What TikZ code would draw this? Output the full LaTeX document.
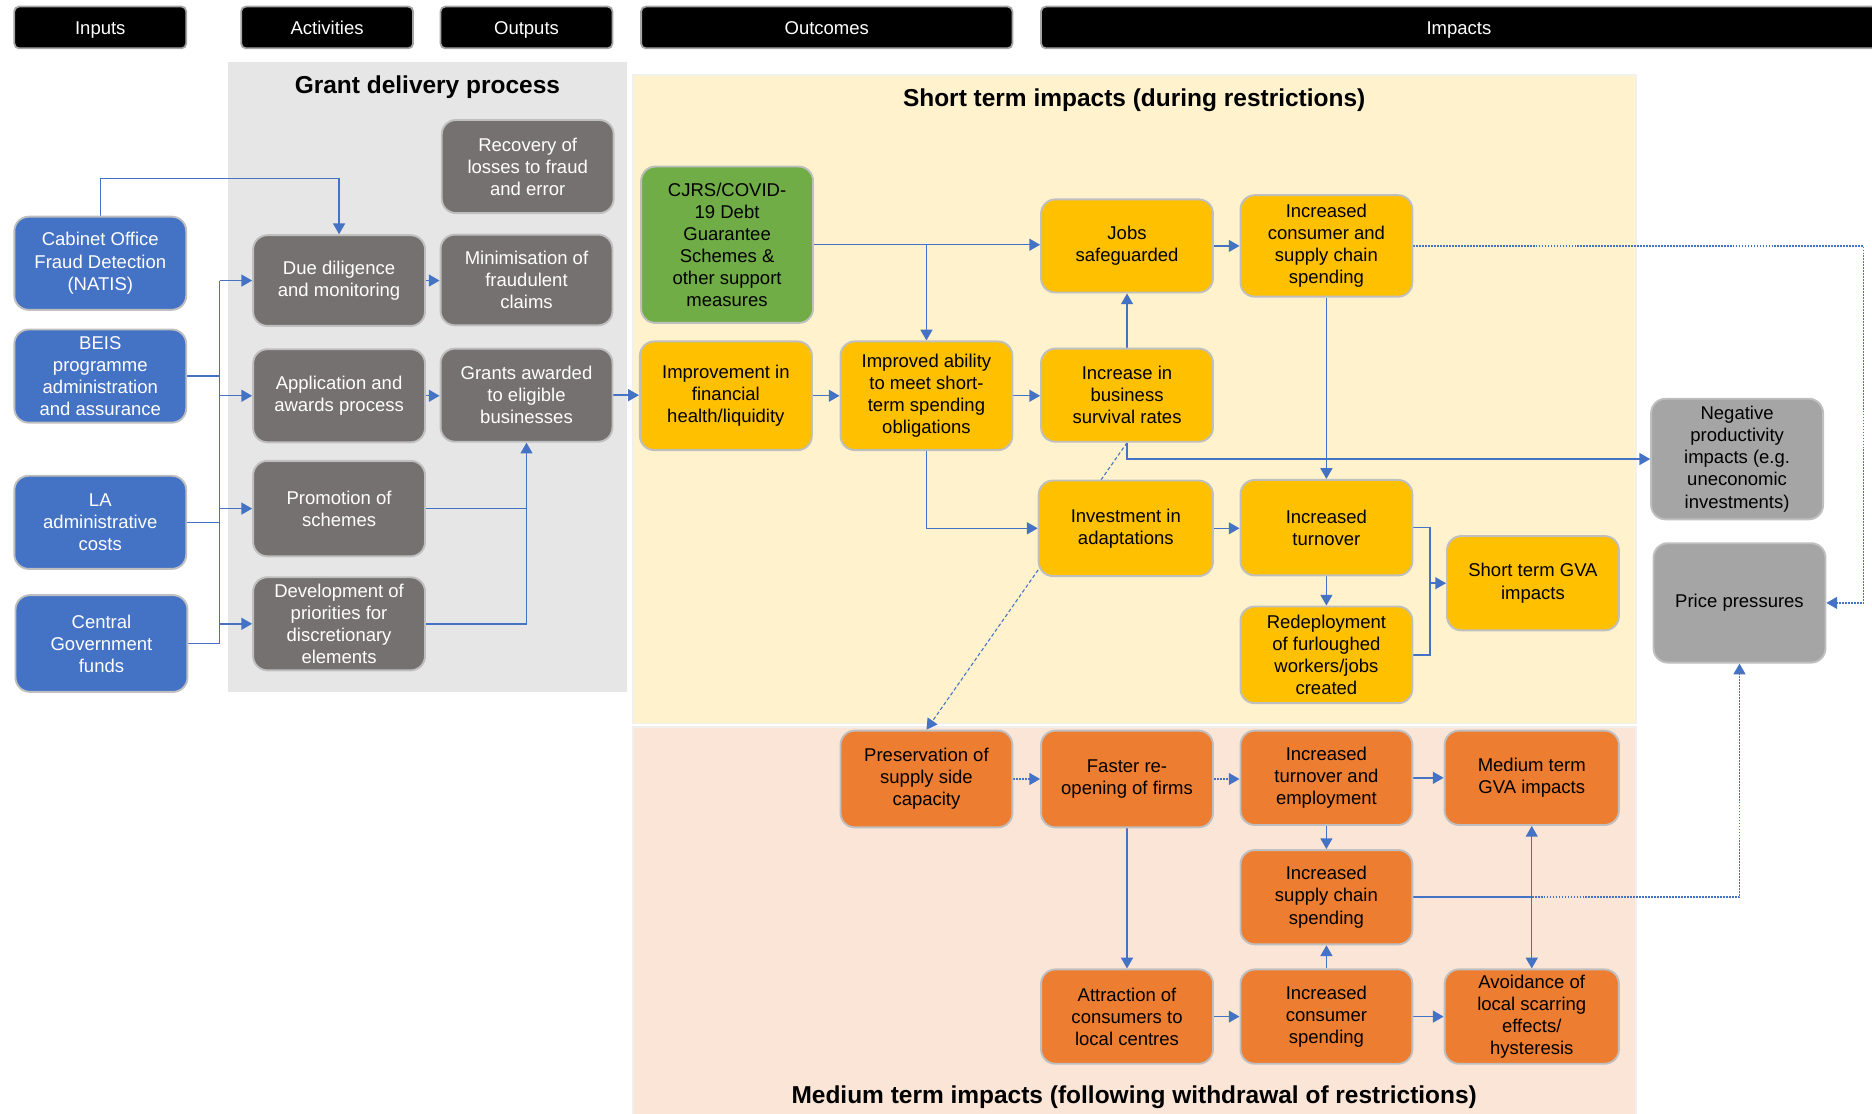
\documentclass[tikz,border=0pt]{standalone}
\usepackage{fontspec}
\setmainfont{Liberation Sans}
\usetikzlibrary{arrows.meta}

\definecolor{inblue}{HTML}{4472C4}
\definecolor{actgray}{HTML}{767171}
\definecolor{cjgreen}{HTML}{70AD47}
\definecolor{gold}{HTML}{FFC000}
\definecolor{orng}{HTML}{ED7D31}
\definecolor{lgray}{HTML}{A5A5A5}
\definecolor{boxline}{HTML}{BFBFBF}
\definecolor{grantbg}{HTML}{E7E6E6}
\definecolor{shortbg}{HTML}{FFF2CC}
\definecolor{medbg}{HTML}{FBE5D6}

\pgfdeclarelayer{background}
\pgfdeclarelayer{links}
\pgfsetlayers{background,links,main}

\tikzset{
  box/.style={draw=boxline, line width=1.6pt, rounded corners=12pt, align=center,
    minimum width=144pt, minimum height=78pt, inner sep=1pt,
    font=\fontsize{15.5}{18.5}\selectfont},
  inbox/.style={box, fill=inblue, text=white},
  actbox/.style={box, fill=actgray, text=white},
  greenbox/.style={box, fill=cjgreen},
  shortbox/.style={box, fill=gold},
  medbox/.style={box, fill=orng},
  sidebox/.style={box, fill=lgray},
  header/.style={draw=lgray, line width=1.5pt, fill=black, text=white, rounded corners=4pt,
    minimum height=35pt, text height=12pt, text depth=1pt,
    font=\fontsize{15.5}{18.5}\selectfont},
  paneltitle/.style={font=\bfseries\fontsize{20.5}{24}\selectfont},
  line/.style={draw=inblue, line width=1.2pt},
  link/.style={line, -{Triangle[length=9pt,width=10pt]}},
  dots/.style={dash pattern=on 1.5pt off 1pt},
  dashes/.style={dash pattern=on 3pt off 2pt, line width=0.9pt}
}

\begin{document}
\begin{tikzpicture}[x=1pt, y=-1pt]
\useasboundingbox (0,0) rectangle (1568,933);

% column headers
\node[header, minimum width=144pt] (hin) at (84,23) {Inputs};
\node[header, minimum width=144pt] (hact) at (274,23) {Activities};
\node[header, minimum width=144pt] (hout) at (441,23) {Outputs};
\node[header, minimum width=311pt] (houtc) at (692.5,23) {Outcomes};
\node[header, minimum width=700pt] (himp) at (1222,23) {Impacts};

% panels
\begin{pgfonlayer}{background}
  \fill[grantbg] (191,52) rectangle (525,580);
  \draw[shortbg!60!gray!25, line width=1.5pt, fill=shortbg] (530,63) rectangle (1370,606);
  \draw[medbg!60!gray!25, line width=1.5pt, fill=medbg] (530,609) rectangle (1370,940);
\end{pgfonlayer}
\node[paneltitle] (tgrant) at (358,73) {Grant delivery process};
\node[paneltitle] (tshort) at (950,84) {Short term impacts (during restrictions)};
\node[paneltitle] (tmed) at (950,919) {Medium term impacts (following withdrawal of restrictions)};

% inputs
\node[inbox] (cab) at (84,220.5) {Cabinet Office\\Fraud Detection\\(NATIS)};
\node[inbox] (beis) at (84,315) {BEIS\\programme\\administration\\and assurance};
\node[inbox] (la) at (84,437.5) {LA\\administrative\\costs};
\node[inbox, minimum height=81pt] (cgf) at (85,539) {Central\\Government\\funds};

% activities
\node[actbox, minimum height=76pt] (due) at (284,235) {Due diligence\\and monitoring};
\node[actbox] (app) at (284,331.5) {Application and\\awards process};
\node[actbox, minimum height=80pt] (promo) at (284,426) {Promotion of\\schemes};
\node[actbox] (dev) at (284,522.5) {Development of\\priorities for\\discretionary\\elements};

% outputs
\node[actbox] (recov) at (442,139.5) {Recovery of\\losses to fraud\\and error};
\node[actbox, minimum height=76pt] (minim) at (441,234.5) {Minimisation of\\fraudulent\\claims};
\node[actbox] (grants) at (441,331) {Grants awarded\\to eligible\\businesses};

% short term
\node[greenbox, minimum height=131pt] (cjrs) at (609,205) {CJRS/COVID-\\19 Debt\\Guarantee\\Schemes \&\\other support\\measures};
\node[shortbox, minimum height=91pt] (fin) at (608,331.5) {Improvement in\\financial\\health/liquidity};
\node[shortbox, minimum height=91pt] (ability) at (776,331.5) {Improved ability\\to meet short-\\term spending\\obligations};
\node[shortbox] (jobs) at (944,206) {Jobs\\safeguarded};
\node[shortbox] (surv) at (944,331) {Increase in\\business\\survival rates};
\node[shortbox, minimum width=146pt, minimum height=80pt] (invest) at (943,442.5) {Investment in\\adaptations};
\node[shortbox, minimum height=85pt] (spend) at (1111,206) {Increased\\consumer and\\supply chain\\spending};
\node[shortbox, minimum height=80pt] (turn) at (1111,442) {Increased\\turnover};
\node[shortbox, minimum height=81pt] (redeploy) at (1111,548.5) {Redeployment\\of furloughed\\workers/jobs\\created};
\node[shortbox, minimum height=79pt] (stgva) at (1284,488.5) {Short term GVA\\impacts};

% side impacts
\node[sidebox, minimum height=101pt] (negprod) at (1455,384.5) {Negative\\productivity\\impacts (e.g.\\uneconomic\\investments)};
\node[sidebox, minimum height=100pt] (price) at (1457,505) {Price pressures};

% medium term
\node[medbox, minimum height=81pt] (preserve) at (776,652.5) {Preservation of\\supply side\\capacity};
\node[medbox, minimum height=81pt] (faster) at (944,652.5) {Faster re-\\opening of firms};
\node[medbox, minimum height=79pt] (turnemp) at (1111,651.5) {Increased\\turnover and\\employment};
\node[medbox, minimum width=146pt, minimum height=79pt] (mtgva) at (1283,651.5) {Medium term\\GVA impacts};
\node[medbox, minimum height=79pt] (incsupply) at (1111,751.5) {Increased\\supply chain\\spending};
\node[medbox, minimum height=79pt] (attract) at (944,851.5) {Attraction of\\consumers to\\local centres};
\node[medbox, minimum height=79pt] (consumer) at (1111,851.5) {Increased\\consumer\\spending};
\node[medbox, minimum width=146pt, minimum height=79pt] (avoid) at (1283,851.5) {Avoidance of\\local scarring\\effects/\\hysteresis};

\begin{pgfonlayer}{links}
  % inputs to activities
  \draw[link] (cab.north) -- ++(0,-31) -| (due.north);
  \coordinate (bustop) at (184,235);
  \draw[line] (bustop) -- (cgf.east -| bustop);
  \draw[line] (beis.east) -- (beis.east -| bustop);
  \draw[line] (la.east) -- (la.east -| bustop);
  \draw[line] (cgf.east) -- (cgf.east -| bustop);
  \foreach \n in {due,app,promo,dev}
    \draw[link] (\n.west -| bustop) -- (\n.west);
  % activities to outputs
  \draw[link] (due.east) -- (minim.west |- due.east);
  \draw[link] (app.east) -- (grants.west |- app.east);
  \draw[link] (promo.east) -| (grants.south);
  \draw[line] (dev.east) -| (grants.south |- promo.east);
  \draw[link] (grants.east) -- (fin.west |- grants.east);
  % short term chain
  \draw[link] (fin.east) -- (ability.west);
  \draw[link] (cjrs.east) -- (cjrs.east -| jobs.west);
  \draw[link] (cjrs.east -| ability.north) -- (ability.north);
  \draw[link] (ability.east) -- (surv.west |- ability.east);
  \draw[link] (surv.north) -- (jobs.south);
  \draw[link] (jobs.east) -- (spend.west |- jobs.east);
  \draw[link] (spend.south) -- (turn.north);
  \draw[link] (surv.south) |- (negprod.west);
  \draw[link] (ability.south) |- (invest.west);
  \draw[link] (invest.east) -- (turn.west |- invest.east);
  \draw[link] (turn.south) -- (redeploy.north);
  \draw[line] (turn.east) -- ++(14,0) coordinate (tj) |- (redeploy.east);
  \draw[link] (tj |- stgva.west) -- (stgva.west);
  \draw[link, dashes] (surv.south) -- (preserve.north);
  \draw[link, dots] (spend.east) -- ++(377,0) |- (price.east);
  % medium term chain
  \draw[link, dots] (preserve.east) -- (faster.west);
  \draw[link, dots] (faster.east) -- (turnemp.west |- faster.east);
  \draw[link] (turnemp.east) -- (mtgva.west);
  \draw[link] (turnemp.south) -- (incsupply.north);
  \draw[link] (faster.south) -- (attract.north);
  \draw[link] (attract.east) -- (consumer.west);
  \draw[link] (consumer.north) -- (incsupply.south);
  \draw[link] (consumer.east) -- (avoid.west);
  \draw[line, {Triangle[length=9pt,width=10pt]}-{Triangle[length=9pt,width=10pt]}] (mtgva.south) -- (avoid.north);
  \draw[line] (incsupply.east) -- (incsupply.east -| avoid.north) coordinate (sc);
  \draw[link, dots] (sc) -| (price.south);
\end{pgfonlayer}
\end{tikzpicture}
\end{document}
